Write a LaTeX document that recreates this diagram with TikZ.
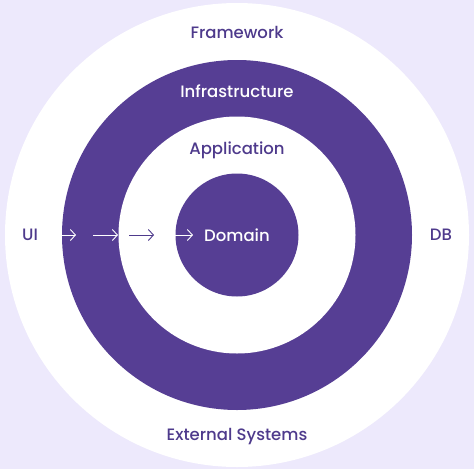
\documentclass[tikz,border=0pt]{standalone}
\usepackage{fontspec}
\setmainfont{Poppins}[UprightFont=* Medium]
\usepackage{tikz}
\usetikzlibrary{arrows.meta,positioning}

\definecolor{lavender}{RGB}{237,233,252}
\definecolor{ringpurple}{RGB}{86,62,148}
\definecolor{textpurple}{RGB}{78,58,140}

\begin{document}
\begin{tikzpicture}[
    x=1pt, y=1pt,
    >={Straight Barb[length=5pt,width=11pt]},
    layer/.style={
        circle,
        fill=#1,
        inner sep=0pt
    },
    lbl/.style={
        font=\fontsize{16.5}{20}\selectfont,
        text=#1,
        inner sep=1pt
    },
    flow/.style={
        ->,
        line width=0.9pt,
        draw=#1
    }
]

% Background and rings
\fill[lavender] (0,0) rectangle (474,-469);
\node[layer=white, minimum size=464pt] (framework) at (237,-235) {};
\node[layer=ringpurple, minimum size=350pt] (infra) at (237,-235) {};
\node[layer=white, minimum size=237pt] (app) at (237,-235) {};
\node[layer=ringpurple, minimum size=123pt] (domain) at (237,-235) {};

% Labels
\node[lbl=textpurple] (fwlbl) at (237,-32) {Framework};
\node[lbl=white] (inflbl) at (237,-91) {Infrastructure};
\node[lbl=textpurple] (applbl) at (237,-150) {Application};
\node[lbl=white] (domlbl) at (237,-235) {Domain};
\node[lbl=textpurple] (ui) at (30,-235) {UI};
\node[lbl=textpurple] (db) at (441,-235) {DB};
\node[lbl=textpurple] (ext) at (237,-437) {External Systems};

% Dependency arrows
\coordinate (a1s) at (61,-235);  \coordinate (a1e) at (76,-235);
\coordinate (a2s) at (93,-235);  \coordinate (a2e) at (118,-235);
\coordinate (a3s) at (129,-235); \coordinate (a3e) at (154,-235);
\coordinate (a4s) at (175,-235); \coordinate (a4e) at (193,-235);
\draw[flow=white] (a1s) -- (a1e);
\draw[flow=white] (a2s) -- (a2e);
\draw[flow=textpurple] (a3s) -- (a3e);
\draw[flow=white] (a4s) -- (a4e);

\end{tikzpicture}
\end{document}
